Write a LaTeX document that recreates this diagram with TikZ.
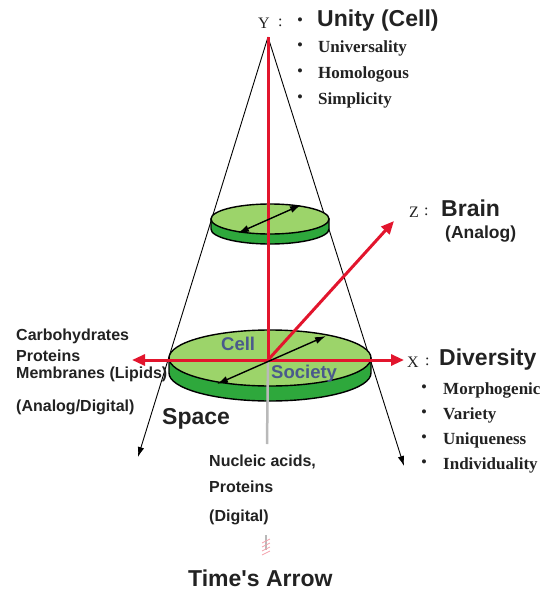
\documentclass[tikz,border=0pt]{standalone}
\usepackage{fontspec}
\setmainfont{Liberation Serif}
\newfontfamily\sansf{Liberation Sans}
\usetikzlibrary{arrows.meta}
\definecolor{redax}{HTML}{E2152D}
\definecolor{ltgreen}{HTML}{9CD46A}
\definecolor{dkgreen}{HTML}{2EA83C}
\definecolor{bluetx}{HTML}{4A5A8C}
\definecolor{txt}{HTML}{222222}
\tikzset{
  lbl/.style={anchor=west,inner sep=0pt,text=txt},
  sbig/.style={lbl,font=\sansf\bfseries\fontsize{23}{23}\selectfont},
  ssml/.style={lbl,font=\sansf\bfseries\fontsize{16}{16}\selectfont},
  serb/.style={lbl,font=\bfseries\fontsize{17}{17}\selectfont},
  serax/.style={lbl,font=\fontsize{16}{16}\selectfont},
  bul/.style={anchor=center,inner sep=0pt,text=txt,font=\fontsize{17}{17}\selectfont},
  blue/.style={lbl,text=bluetx,font=\sansf\bfseries\fontsize{18.5}{18.5}\selectfont},
  redarrow/.style={draw=redax,line width=3pt,-{Triangle[length=13pt,width=11pt]}},
  redline/.style={draw=redax,line width=3pt},
  cone/.style={draw=black,line width=0.9pt,-{Latex[length=10pt,width=6.5pt]}},
  dbl/.style={draw=black,line width=1.4pt,{Latex[length=11pt,width=7pt]}-{Latex[length=11pt,width=7pt]}},
  diskside/.style={fill=dkgreen,draw=black,line width=1.4pt},
  disktop/.style={fill=ltgreen,draw=black,line width=1.4pt},
}
\begin{document}
\begin{tikzpicture}[x=1pt,y=-1pt]
\useasboundingbox (0,0) rectangle (551,592);
\coordinate (A) at (268,37);
\coordinate (C) at (268,360);
\coordinate (L) at (138,457);
\coordinate (R) at (404,466);
\coordinate (XL) at (132,360);
\coordinate (XR) at (404,360);
\coordinate (Z) at (394,221);
\coordinate (G) at (267,444);
% cone lines
\draw[cone] (A) -- (L);
\draw[cone] (A) -- (R);
% big disk
\path[diskside] (169,358) -- (169,373) arc[start angle=180,end angle=0,x radius=101,y radius=28] -- (371,358) -- cycle;
\path[disktop] (270,358) ellipse[x radius=101,y radius=28];
% small disk
\path[diskside] (211,219) -- (211,229) arc[start angle=180,end angle=0,x radius=59,y radius=15] -- (329,219) -- cycle;
\path[disktop] (270,219) ellipse[x radius=59,y radius=15];
% gray time axis
\draw[gray!55,line width=2.5pt] (C) -- (G);
\coordinate (T1) at (266,535);
\coordinate (T2) at (266,550);
\draw[gray!55,line width=2pt] (T1) -- (T2);
\foreach \yy in {541,545,549,553}{
  \draw[redax!40,line width=0.7pt] (262,\yy+2) -- (270,\yy-2);
}
% red axes
\draw[redline] (A) -- (C);
\draw[redarrow] (C) -- (XL);
\draw[redarrow] (C) -- (XR);
\draw[redarrow] (C) -- (Z);
% double arrows
\coordinate (B1) at (217,384);
\coordinate (B2) at (326,336);
\draw[dbl] (B1) -- (B2);
\coordinate (S1) at (238,233);
\coordinate (S2) at (301,205);
\draw[dbl] (S1) -- (S2);
% labels on disk
\node[blue] (cell) at (221,344) {Cell};
\node[blue] (soc) at (271,374) {Society};
% Y axis labels
\node[serax] (ylab) at (258,23) {Y};
\node[serax] (ycol) at (278,23) {:};
\node[bul] (yb0) at (300,22) {•};
\node[sbig] (unity) at (317,21) {Unity (Cell)};
\node[bul] (yb1) at (300,47) {•};
\node[serb] (u1) at (318,48) {Universality};
\node[bul] (yb2) at (300,73) {•};
\node[serb] (u2) at (318,74) {Homologous};
\node[bul] (yb3) at (300,99) {•};
\node[serb] (u3) at (318,100) {Simplicity};
% Z axis labels
\node[serax] (zlab) at (409,212) {Z};
\node[serax] (zcol) at (424,212) {:};
\node[sbig] (brain) at (441,208) {Brain};
\node[ssml,font=\sansf\bfseries\fontsize{17.5}{17.5}\selectfont] (analog) at (445,234) {(Analog)};
% X axis labels
\node[serax] (xlab) at (407,362) {X};
\node[serax] (xcol) at (425,362) {:};
\node[sbig] (div) at (439,360) {Diversity};
\node[bul] (xb1) at (424,389) {•};
\node[serb] (d1) at (443,390) {Morphogenic};
\node[bul] (xb2) at (424,414) {•};
\node[serb] (d2) at (443,415) {Variety};
\node[bul] (xb3) at (424,439) {•};
\node[serb] (d3) at (443,440) {Uniqueness};
\node[bul] (xb4) at (424,464) {•};
\node[serb] (d4) at (443,465) {Individuality};
% left labels
\node[ssml] (l1) at (16,336) {Carbohydrates};
\node[ssml] (l2) at (16,356) {Proteins};
\node[ssml] (l3) at (16,374) {Membranes (Lipids)};
\node[ssml] (l4) at (16,407) {(Analog/Digital)};
\node[sbig] (space) at (162,419) {Space};
% bottom labels
\node[ssml] (n1) at (209,462) {Nucleic acids,};
\node[ssml] (n2) at (209,487) {Proteins};
\node[ssml] (n3) at (209,517) {(Digital)};
\node[sbig] (time) at (188,578) {Time's Arrow};
\end{tikzpicture}
\end{document}
